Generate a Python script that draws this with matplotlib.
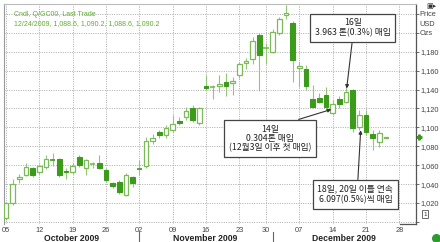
import matplotlib
matplotlib.use("Agg")
import matplotlib.pyplot as plt
import pandas as pd

# daily gold futures (Q/GC00), Oct 5 - Dec 24 2009
opens = [1004, 1019.5, 1045, 1050, 1056.5, 1053, 1058, 1066.5, 1067, 1054,
         1053, 1069, 1056.5, 1060.5, 1062.5, 1055, 1041, 1042.5, 1028.5, 1047,
         1056.5, 1059, 1086, 1095, 1092, 1097, 1107, 1110.5, 1120, 1104.5,
         1143.5, 1142.5, 1144, 1148, 1147, 1155.5, 1168, 1172, 1197.5, 1183.5,
         1180, 1199.5, 1219, 1210, 1162.5, 1161.5, 1130.5, 1131.5, 1134, 1115,
         1129.5, 1127, 1139.5, 1100.5, 1113, 1093.5, 1085, 1088.6]
highs = [1021, 1045, 1051, 1062.5, 1058.5, 1061, 1070.5, 1072.5, 1068, 1057.5,
         1062, 1070.5, 1067, 1063.5, 1070.5, 1056.5, 1042.5, 1044.5, 1051.5, 1048.5,
         1065.5, 1090, 1093, 1097.5, 1102.5, 1113, 1110.5, 1122, 1123.5, 1122,
         1155.5, 1145, 1155.5, 1157, 1153.5, 1169.5, 1173, 1196, 1199.5, 1189,
         1204.5, 1217, 1229.5, 1212, 1169.5, 1166, 1145, 1136, 1143, 1129,
         1133, 1143, 1141, 1118.5, 1118.5, 1097, 1097, 1090.2]
lows = [1002, 1018, 1041.5, 1048.5, 1047, 1051, 1055.5, 1059, 1048, 1045,
        1051, 1058.5, 1049.5, 1056.5, 1055.5, 1042.5, 1035.5, 1029.5, 1027.5, 1037,
        1050, 1057, 1082.5, 1088.5, 1088.5, 1095.5, 1102.5, 1108, 1106, 1102.5,
        1139.5, 1129.5, 1137.5, 1133, 1134.5, 1152, 1162, 1167.5, 1138, 1167.5,
        1178.5, 1197.5, 1215, 1148, 1143, 1139.5, 1120, 1125.5, 1118.5, 1113,
        1120, 1125.5, 1095.5, 1097, 1092, 1076, 1079.5, 1088.6]
closes = [1019.5, 1040.5, 1047, 1058.5, 1049.5, 1059, 1067, 1065.5, 1049.5, 1052.5,
          1059, 1060, 1066, 1061, 1057.5, 1044.5, 1037.5, 1032, 1049.5, 1041,
          1055.5, 1086, 1089, 1091.5, 1099, 1104, 1105, 1117.5, 1108, 1120,
          1141.5, 1143, 1145.5, 1144, 1149.5, 1167.5, 1170.5, 1191, 1176.5, 1184.5,
          1201, 1215, 1220.5, 1171.5, 1165, 1143.5, 1122, 1127, 1122, 1125,
          1124.5, 1137.5, 1099, 1113, 1095.5, 1088.5, 1094, 1090.2]

# trading days (Thanksgiving closed), plus the empty weekday slots after the last bar
days = pd.bdate_range("2009-10-05", "2009-12-24").drop(pd.Timestamp("2009-11-26"))
slots = days.append(pd.bdate_range("2009-12-25", "2009-12-31"))

y_ticks = [1000, 1020, 1040, 1060, 1080, 1100, 1120, 1140, 1160, 1180, 1200, 1220]
y_labels = ["", "1,020", "1,040", "1,060", "1,080", "1,100", "1,120", "1,140",
            "1,160", "1,180", "", ""]
months = ["October 2009", "November 2009", "December 2009"]

up_col = "#7cb95a"
down_col = "#3d9b1c"
wick_col = "#93c775"

fig = plt.figure(figsize=(4.4, 2.42), dpi=100)
ax = fig.add_axes([4 / 440, 1 - 224 / 242, 412 / 440, 220.5 / 242])

for i in range(len(opens)):
    o, h, l, c = opens[i], highs[i], lows[i], closes[i]
    ax.vlines(i, l, h, color=wick_col, lw=0.8, zorder=2)
    if abs(c - o) < 1.2:
        col = up_col if c >= o else down_col
        ax.hlines((o + c) / 2, i - 0.38, i + 0.38, color=col, lw=1.2, zorder=3)
    elif c > o:
        ax.bar(i, c - o, bottom=o, width=0.7, facecolor="white",
               edgecolor=up_col, lw=0.9, zorder=3)
    else:
        ax.bar(i, o - c, bottom=c, width=0.7, facecolor=down_col,
               edgecolor=down_col, lw=0.8, zorder=3)

ax.set_xlim(-0.3, 61.5)
ax.set_ylim(997.8, 1231)

mondays = [k for k, d in enumerate(slots) if d.weekday() == 0]
ax.set_xticks(mondays)
ax.set_xticklabels([slots[k].strftime("%d") for k in mondays])
ax.yaxis.tick_right()
ax.set_yticks(y_ticks)
ax.set_yticklabels(y_labels)
ax.tick_params(axis="x", length=0, pad=2, labelsize=5.3, labelcolor="#444")
ax.tick_params(axis="y", length=2, width=0.6, color="#555", pad=1.5,
               labelsize=5.3, labelcolor="#444")
for t in ax.get_xticklabels() + ax.get_yticklabels():
    t.set_family("Liberation Sans")

ax.grid(True, color="#ababab", lw=0.7, linestyle=(0, (1, 1.4)))
ax.set_axisbelow(True)
ax.spines["bottom"].set_visible(False)
ax.spines["right"].set_color("#555")
ax.spines["right"].set_linewidth(0.9)
ax.spines["left"].set_color("#999")
ax.spines["top"].set_color("#bbb")
ax.spines["left"].set_linewidth(0.8)
ax.spines["top"].set_linewidth(0.8)

# month labels and separators
trans = ax.get_xaxis_transform()
month_start = [0, 20, 40]
month_mid = [9.8, 29.9, 50.7]
for m, xm in zip(months, month_mid):
    ax.text(xm, -0.064, m, transform=trans, ha="center", va="center",
            fontsize=6.2, fontweight="bold", color="#222", family="Liberation Sans")
for s in month_start[1:]:
    ax.plot([s, s], [-0.036, -0.085], transform=trans, color="#666", lw=0.8,
            clip_on=False)

# header text
ax.text(0.024, 0.948, "Cndl, Q/GC00, Last Trade", transform=ax.transAxes,
        fontsize=5, color="#5fae2e", family="Liberation Sans", va="center")
ax.text(0.024, 0.907, "12/24/2009, 1,088.6, 1,090.2, 1,088.6, 1,090.2",
        transform=ax.transAxes, fontsize=5, color="#5fae2e",
        family="Liberation Sans", va="center")

# right-hand axis decorations
for txt, yy in zip(["Price", "USD", "Ozs"], [0.948, 0.907, 0.862]):
    ax.text(1.008, yy, txt, transform=ax.transAxes, fontsize=5.3, color="#444",
            va="center", family="Liberation Sans")
ax.text(1.026, 0.99, "▣▸", transform=ax.transAxes, fontsize=5, color="#333",
        va="center", family="DejaVu Sans")
ax.text(1.022, 0.045, "1", transform=ax.transAxes, fontsize=4.5, color="#333",
        ha="center", va="center", family="Liberation Sans",
        bbox=dict(boxstyle="square,pad=0.25", fc="white", ec="#555", lw=0.6))
ax.plot([0.962, 1.0], [0.0, 0.0], transform=ax.transAxes, color="#555", lw=0.9,
        clip_on=False)
ax.plot([1.007], [closes[-1]], marker="P", ms=3.5, color=down_col, mec=down_col,
        transform=ax.get_yaxis_transform(), clip_on=False)
ax.plot([1.0485], [-0.064], marker="o", ms=5.5, color="#2e9b2e",
        transform=ax.transAxes, clip_on=False)

# purchase call-outs
kr = ["Noto Sans CJK KR", "DejaVu Sans"]
box = dict(boxstyle="square,pad=0.55", fc="white", ec="#444", lw=0.9)
arrow = dict(arrowstyle="-|>", color="#333", lw=0.8, mutation_scale=5,
             shrinkA=0, shrinkB=0)

ax.annotate("16일\n3.963 톤(0.3%) 매입", xy=(51.1, 1141), xytext=(52.0, 1205),
            ha="center", va="center", fontsize=6.3, family=kr, color="#222",
            linespacing=1.15, bbox=box,
            arrowprops=dict(arrow, relpos=(0.5, 0.0)), zorder=5)
ax.annotate("14일\n0.304톤 매입\n(12월3일 이후 첫 매입)", xy=(48.8, 1119),
            xytext=(39.6, 1088.5), ha="center", va="center", fontsize=6.3,
            family=kr, color="#222", linespacing=1.0, bbox=box,
            arrowprops=dict(arrow, relpos=(0.64, 1.0)), zorder=5)
ax.annotate("18일, 20일 이틀 연속\n6.097(0.5%)씩 매입", xy=(53.2, 1097),
            xytext=(52.4, 1029), ha="center", va="center", fontsize=6.3,
            family=kr, color="#222", linespacing=1.2, bbox=box,
            arrowprops=dict(arrow, relpos=(0.53, 1.0)), zorder=5)

fig.savefig("out.png", dpi=100)
